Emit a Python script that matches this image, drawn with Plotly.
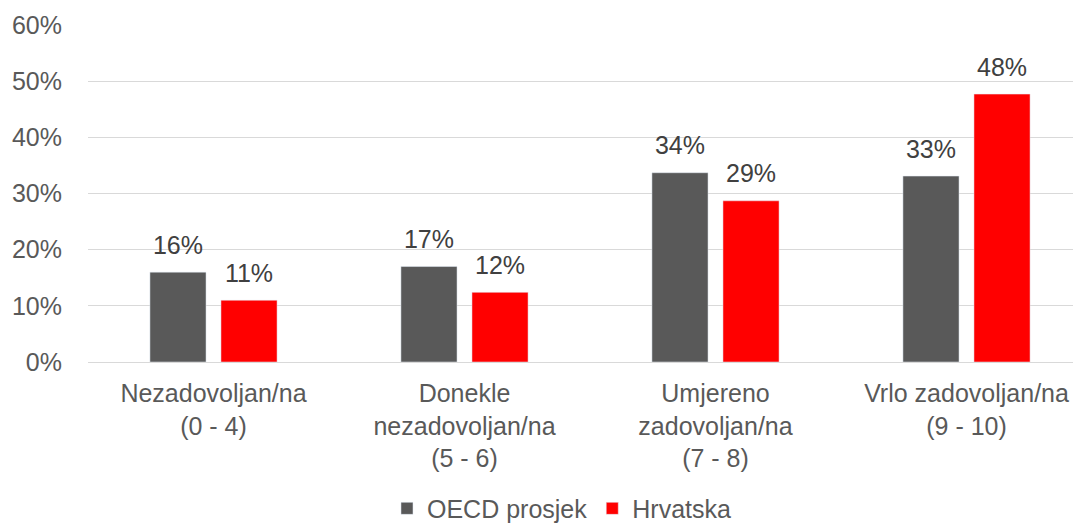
import plotly.graph_objects as go

categories = [
    "Nezadovoljan/na<br>(0 - 4)",
    "Donekle<br>nezadovoljan/na<br>(5 - 6)",
    "Umjereno<br>zadovoljan/na<br>(7 - 8)",
    "Vrlo zadovoljan/na<br>(9 - 10)",
]
oecd = [0.160, 0.170, 0.337, 0.331]
hrvatska = [0.110, 0.124, 0.287, 0.477]
y_ticks = [0, 0.1, 0.2, 0.3, 0.4, 0.5, 0.6]

GRAY = "#595959"
RED = "#FF0000"
FONT = "Liberation Sans, Arial, sans-serif"

fig = go.Figure()

# bars
fig.add_trace(go.Bar(x=categories, y=oecd, name="OECD prosjek",
                     marker=dict(color=GRAY), offsetgroup="a"))
fig.add_trace(go.Bar(x=categories, y=hrvatska, name="Hrvatska",
                     marker=dict(color=RED), offsetgroup="b"))

# data labels sit a bit above the bars, like in Excel
for vals, grp in [(oecd, "a"), (hrvatska, "b")]:
    fig.add_trace(go.Scatter(
        x=categories, y=vals, mode="markers+text", offsetgroup=grp,
        text=[f"{v:.0%}" for v in vals], textposition="top center",
        textfont=dict(size=25, color="#404040", family=FONT),
        marker=dict(size=18, opacity=0), showlegend=False,
        hoverinfo="skip", cliponaxis=False))

# page body has an 8px margin; the plot area runs a bit past the right edge
fig.update_layout(
    width=1084, height=516,
    margin=dict(l=80, r=0, t=17, b=162, autoexpand=False),
    paper_bgcolor="white", plot_bgcolor="white",
    font=dict(family=FONT, color=GRAY, size=25),
    barmode="group", bargap=0.434, bargroupgap=0.21,
    scattermode="group", scattergap=0.434,
    legend=dict(orientation="h", x=0.4716, xanchor="center",
                y=-0.435, yanchor="middle", font=dict(size=25),
                itemwidth=30, traceorder="normal"),
    showlegend=True,
)
fig.update_yaxes(range=[0, 0.6], tickvals=y_ticks, tickformat=".0%",
                 showgrid=True, gridcolor="#D9D9D9", gridwidth=1.3,
                 zeroline=False, showline=False, tickfont=dict(size=25),
                 ticklabelstandoff=25, automargin=False)
fig.update_xaxes(showline=True, linecolor="#D9D9D9", linewidth=1.3,
                 tickfont=dict(size=25), ticklabelstandoff=9,
                 automargin=False)

fig.write_html("out.html")
